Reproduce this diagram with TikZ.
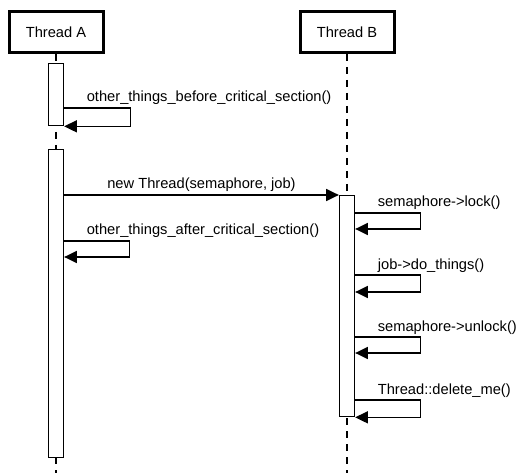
\documentclass[tikz,border=0pt]{standalone}
\usepackage{fontspec}
\setmainfont{Liberation Sans}
\usetikzlibrary{arrows.meta, positioning}

\begin{document}
\begin{tikzpicture}[
    x=0.75pt, y=-0.75pt,
    >={Triangle[length=9.5pt,width=9pt]},
    line width=1pt,
    every node/.style={font=\fontsize{11}{13}\selectfont},  % Arial-like labels
    thread/.style={draw, line width=2.25pt, minimum width=70.5pt, minimum height=30.75pt, inner sep=0pt},
    activation/.style={draw, fill=white, minimum width=11.25pt, inner sep=0pt, anchor=north},
    lifeline/.style={dash pattern=on 5.25pt off 4.5pt},
    msg/.style={->},
    selflabel/.style={anchor=base west, inner sep=0pt, xshift=16.5pt, yshift=4.5pt}
]
\useasboundingbox (0,0) rectangle (523,473);

% Participants
\node[thread] (threadA) at (56,32) {Thread A};
\node[thread] (threadB) at (347,32) {Thread B};

% Lifelines (drawn first, bars go on top)
\coordinate (endA) at (56,473);
\coordinate (endB) at (347,473);
\draw[lifeline] (threadA.south) -- (endA);
\draw[lifeline] (threadB.south) -- (endB);

% Activation bars
\node[activation, minimum height=46.5pt] (actA1) at (56,63) {};
\node[activation, minimum height=231pt] (actA2) at (56,149) {};
\node[activation, minimum height=165.75pt] (actB) at (347,195) {};

% Thread A, first bar
\draw[msg] ([yshift=-33.75pt]actA1.north east) node[selflabel] {other\_things\_before\_critical\_section()} -- ++(66,0) |- (actA1.south east);

% Thread A starts Thread B
\draw[msg] (actB.north west -| actA2.east) -- node[above, inner sep=2pt] {new Thread(semaphore, job)} (actB.north west);

% Thread A, second bar
\draw[msg] ([yshift=-69pt]actA2.north east) node[selflabel] {other\_things\_after\_critical\_section()} -- ++(65,0) |- ([yshift=-81pt]actA2.north east);

% Thread B calls
\draw[msg] ([yshift=-13.5pt]actB.north east) node[selflabel] {semaphore->lock()} -- ++(65,0) |- ([yshift=-25.5pt]actB.north east);
\draw[msg] ([yshift=-60pt]actB.north east) node[selflabel] {job->do\_things()} -- ++(65,0) |- ([yshift=-72.75pt]actB.north east);
\draw[msg] ([yshift=-106.5pt]actB.north east) node[selflabel] {semaphore->unlock()} -- ++(65,0) |- ([yshift=-118.5pt]actB.north east);
\draw[msg] ([yshift=-153.75pt]actB.north east) node[selflabel] {Thread::delete\_me()} -- ++(65,0) |- (actB.south east);

\end{tikzpicture}
\end{document}
